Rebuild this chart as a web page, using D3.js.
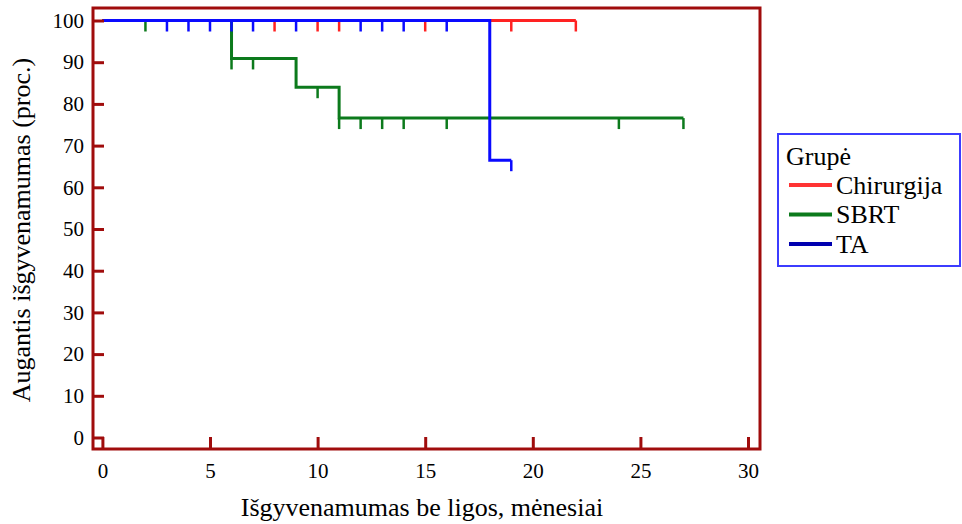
<!DOCTYPE html>
<html>
<head>
<meta charset="utf-8">
<script src="https://cdn.jsdelivr.net/npm/d3@7"></script>
<style>
  body { margin: 0; background: #fff; }
  svg text { font-family: "Liberation Serif", "DejaVu Serif", "Times New Roman", Times, serif; fill: #000; }
</style>
</head>
<body>
<svg id="chart" width="962" height="524"></svg>
<script>
// data
var groups = ["Chirurgija", "SBRT", "TA"];
var groupColors = ["#ff2222", "#0c7a1c", "#0a0aff"];
var legendColors = ["#ff3333", "#0c7a1c", "#0000b0"];

var chirStepT = [0];
var chirStepS = [100];
var chirEnd = 22;
var chirCensor = [8, 10, 11, 15, 19, 22];

var sbrtStepT = [0, 6, 9, 11];
var sbrtStepS = [100, 90.9, 84, 76.6];
var sbrtEnd = 27;
var sbrtCensor = [2, 6, 7, 10, 11, 12, 13, 14, 16, 24, 27];

var taStepT = [0, 18];
var taStepS = [100, 66.5];
var taEnd = 19;
var taCensor = [3, 4, 5, 6, 7, 9, 12, 13, 14, 16, 19];

var xTicks = [0, 5, 10, 15, 20, 25, 30];
var yTicks = [0, 10, 20, 30, 40, 50, 60, 70, 80, 90, 100];

var serif = "'Liberation Serif', 'DejaVu Serif', 'Times New Roman', Times, serif";
var svg = d3.select("#chart");
var frameColor = "#a00c0c";

var x = d3.scaleLinear().domain([0, 30]).range([102.4, 748]);
var y = d3.scaleLinear().domain([0, 100]).range([437.5, 20.5]);

// frame
var frame = {left: 93, top: 8, right: 760, bottom: 449};

// curves
var series = [
    {t: chirStepT, s: chirStepS, end: chirEnd, c: chirCensor},
    {t: sbrtStepT, s: sbrtStepS, end: sbrtEnd, c: sbrtCensor},
    {t: taStepT, s: taStepS, end: taEnd, c: taCensor}
];

function survAt(d, t) {
    var v = d.s[0];
    d.t.forEach(function (tt, i) { if (tt <= t) v = d.s[i]; });
    return v;
}

var line = d3.line()
    .x(function (p) { return x(p[0]); })
    .y(function (p) { return y(p[1]); })
    .curve(d3.curveStepAfter);

series.forEach(function (d, i) {
    var pts = d.t.map(function (tt, j) { return [tt, d.s[j]]; });
    pts.push([d.end, d.s[d.s.length - 1]]);
    var g = svg.append("g");
    g.append("path")
        .attr("d", line(pts))
        .attr("fill", "none")
        .attr("stroke", groupColors[i])
        .attr("stroke-width", 3);
    g.selectAll("line.cens").data(d.c).enter().append("line")
        .attr("x1", function (t) { return x(t); })
        .attr("x2", function (t) { return x(t); })
        .attr("y1", function (t) { return y(survAt(d, t)); })
        .attr("y2", function (t) { return y(survAt(d, t)) + 11; })
        .attr("stroke", groupColors[i])
        .attr("stroke-width", 2.5);
});

// axes
var yAxis = svg.append("g")
    .attr("transform", "translate(" + frame.left + ",0)")
    .call(d3.axisLeft(y).tickValues(yTicks).tickSize(-11).tickPadding(9));
var xAxis = svg.append("g")
    .attr("transform", "translate(0," + frame.bottom + ")")
    .call(d3.axisBottom(x).tickValues(xTicks).tickSize(-12).tickPadding(10));

[xAxis, yAxis].forEach(function (a) {
    a.attr("font-family", serif).attr("font-size", 21);
    a.select(".domain").remove();
    a.selectAll(".tick line").attr("stroke", frameColor).attr("stroke-width", 3);
    a.selectAll(".tick text")
        .style("font-family", serif)
        .style("font-size", "21px")
        .attr("fill", "#000");
});
xAxis.selectAll(".tick text").attr("dy", "0.9em");

svg.append("rect")
    .attr("x", frame.left).attr("y", frame.top)
    .attr("width", frame.right - frame.left)
    .attr("height", frame.bottom - frame.top)
    .attr("fill", "none")
    .attr("stroke", frameColor)
    .attr("stroke-width", 3);

// axis titles
svg.append("text")
    .attr("x", 422).attr("y", 516)
    .attr("text-anchor", "middle")
    .style("font-family", serif)
    .style("font-size", "26px")
    .text("Išgyvenamumas be ligos, mėnesiai");

svg.append("text")
    .attr("transform", "translate(30,230) rotate(-90)")
    .attr("text-anchor", "middle")
    .style("font-family", serif)
    .style("font-size", "26px")
    .text("Augantis išgyvenamumas (proc.)");

// legend
var leg = svg.append("g");
leg.append("rect")
    .attr("x", 778).attr("y", 134).attr("width", 182).attr("height", 132)
    .attr("fill", "#fff").attr("stroke", "#3c3cff").attr("stroke-width", 2);
leg.append("text").attr("x", 786).attr("y", 165)
    .style("font-family", serif).style("font-size", "26px").text("Grupė");
groups.forEach(function (name, i) {
    var yy = 185 + i * 29.5;
    leg.append("line")
        .attr("x1", 789).attr("x2", 832).attr("y1", yy).attr("y2", yy)
        .attr("stroke", legendColors[i]).attr("stroke-width", 4);
    leg.append("text").attr("x", 836).attr("y", yy + 8.5)
        .style("font-family", serif).style("font-size", "26px").text(name);
});
</script>
</body>
</html>
